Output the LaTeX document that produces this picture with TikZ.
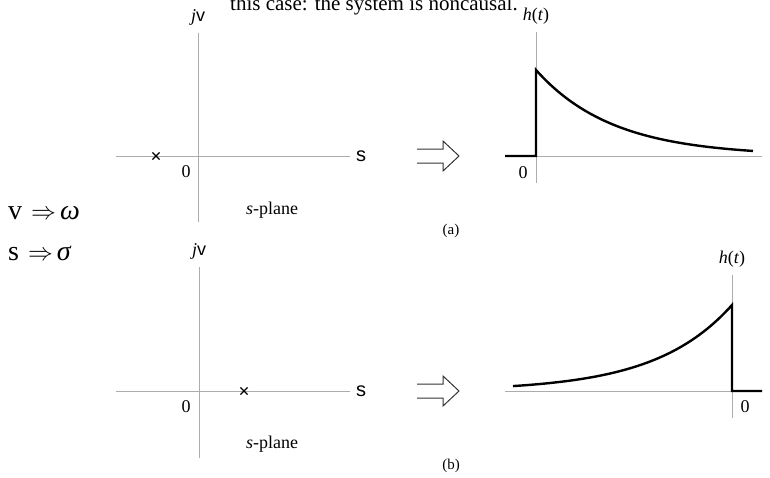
\documentclass[tikz,border=0pt]{standalone}
\usepackage{fontspec}
\setmainfont{Liberation Serif}
\newfontfamily\axfont{Liberation Sans}
\usetikzlibrary{positioning, shapes.misc}
\tikzset{
    axis/.style={draw=gray!65, line width=1pt},
    signal/.style={draw, line width=2.4pt, line join=miter},
    imply/.style={draw=black!80, line width=1pt, line join=miter},
    pole/.style={draw, cross out, minimum size=6pt, inner sep=0pt, line width=1.2pt},
    lbl/.style={inner sep=0pt, font=\fontsize{18}{18}\selectfont},
    axlbl/.style={inner sep=0pt, font=\axfont\fontsize{20}{20}\selectfont},
    caplbl/.style={inner sep=0pt, font=\fontsize{15}{15}\selectfont},
    rulelbl/.style={inner sep=0pt, anchor=west, font=\fontsize{28}{28}\selectfont}
}

\begin{document}
\begin{tikzpicture}[x=1pt, y=-1pt]
  \useasboundingbox (0,0) rectangle (770,477);
  \clip (0,0) rectangle (770,477);
  % cut-off line of text above
  \node(head)[anchor=base, inner sep=0pt, font=\fontsize{21}{21}\selectfont] at (374,10) {this case: the system is noncausal.};

  % (a) s-plane
  \coordinate(at) at (198,33);
  \coordinate(ab) at (198,222);
  \coordinate(al) at (116,156);
  \coordinate(ar) at (350,156);
  \draw[axis](at)--(ab);
  \draw[axis](al)--(ar);
  \node(jva)[lbl, above=7pt of at]{\textit{j}{\axfont v}};
  \node(sa)[axlbl, right=6pt of ar]{s};
  \node(pa)[pole] at (156,156){};
  \node(za)[lbl] at (186,172){0};
  \node(pla)[lbl] at (272,210){\textit{s}-plane};

  % (a) h(t)
  \coordinate(ht) at (536,32);
  \coordinate(hb) at (536,183);
  \coordinate(hl) at (505,156);
  \coordinate(hr) at (762,156);
  \draw[axis](ht)--(hb);
  \draw[axis](hl)--(hr);
  \node(hta)[lbl, above=7pt of ht]{\textit{h}(\textit{t})};
  \node(zha)[lbl] at (523,173){0};
  \draw[signal](hl)--(536,156)--(536,70)--plot[domain=0:217, samples=60]({536+\x},{156-86*exp(-\x/76.6)});
  \draw[imply](417,149)--++(26,0)--++(0,-8)--++(16,15)--++(-16,15)--++(0,-8)--++(-26,0);
  \node(capa)[caplbl] at (451,231){(a)};

  % mapping
  \node(mv)[rulelbl] at (8,213){v\hspace{9pt}$\Rightarrow$\hspace{4pt}\textit{ω}};
  \node(ms)[rulelbl] at (8,253){s\hspace{9pt}$\Rightarrow$\hspace{4pt}\textit{σ}};

  % (b) s-plane
  \coordinate(bt) at (199,267);
  \coordinate(bb) at (199,458);
  \coordinate(bl) at (116,391);
  \coordinate(br) at (350,391);
  \draw[axis](bt)--(bb);
  \draw[axis](bl)--(br);
  \node(jvb)[lbl, above=7pt of bt]{\textit{j}{\axfont v}};
  \node(sb)[axlbl, right=6pt of br]{s};
  \node(pb)[pole] at (244,391){};
  \node(zb)[lbl] at (186,407){0};
  \node(plb)[lbl] at (272,444){\textit{s}-plane};

  % (b) h(t)
  \coordinate(gt) at (732,275);
  \coordinate(gb) at (732,418);
  \coordinate(gl) at (505,391);
  \coordinate(gr) at (762,391);
  \draw[axis](gt)--(gb);
  \draw[axis](gl)--(gr);
  \node(htb)[lbl, above=7pt of gt]{\textit{h}(\textit{t})};
  \node(zhb)[lbl] at (745,407){0};
  \draw[signal](gr)--(732,391)--(732,305)--plot[domain=0:219, samples=60]({732-\x},{391-86*exp(-\x/76.6)});
  \draw[imply](417,384)--++(26,0)--++(0,-8)--++(16,15)--++(-16,15)--++(0,-8)--++(-26,0);
  \node(capb)[caplbl] at (451,466){(b)};
\end{tikzpicture}
\end{document}
